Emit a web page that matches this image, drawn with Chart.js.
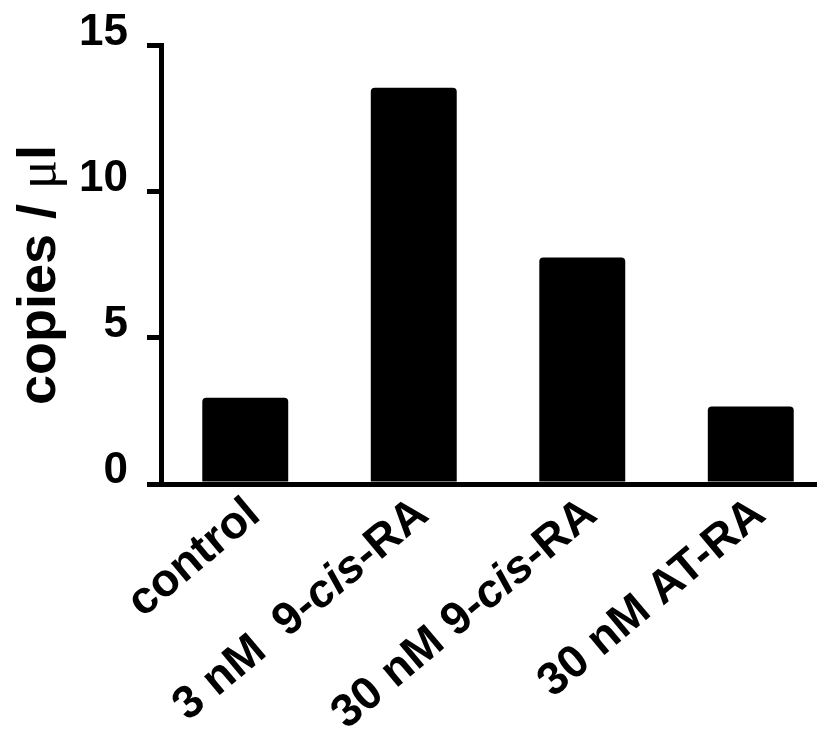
<!DOCTYPE html>
<html>
<head>
<meta charset="utf-8">
<script src="https://cdn.jsdelivr.net/npm/chart.js@4.4.1/dist/chart.umd.min.js"></script>
<style>
  html, body { margin: 0; padding: 0; background: #fff; }
  canvas { display: block; }
</style>
</head>
<body>
<canvas id="chart" width="817" height="742"></canvas>
<script>
// data
const categories = ['control', '3 nM  9-cis-RA', '30 nM 9-cis-RA', '30 nM AT-RA'];
const copies = [2.95, 13.55, 7.75, 2.65];
const yTicks = [0, 5, 10, 15];
const yTitle = ['copies / ', '\u03bc', 'l'];
const italicWord = 'cis';

const sans = '"Liberation Sans", Arial, sans-serif';

// x labels: rotated, with the "cis" part in italics
const xLabelPlugin = {
    id: 'xLabels',
    afterDraw(chart) {
        const ctx = chart.ctx;
        const xScale = chart.scales.x;
        const bottom = chart.chartArea.bottom;
        const angle = -40 * Math.PI / 180;
        categories.forEach((label, i) => {
            const parts = label.split(new RegExp('(' + italicWord + ')'));
            const fonts = parts.map(p => p === italicWord ? 'italic bold 46px ' + sans : 'bold 46px ' + sans);
            let total = 0;
            const widths = parts.map((p, k) => {
                ctx.font = fonts[k];
                const w = ctx.measureText(p).width;
                total += w;
                return w;
            });
            ctx.save();
            ctx.translate(xScale.getPixelForValue(i) + 17, bottom + 34);
            ctx.rotate(angle);
            ctx.fillStyle = '#000';
            ctx.textAlign = 'left';
            ctx.textBaseline = 'alphabetic';
            let x = -total;
            parts.forEach((p, k) => {
                ctx.font = fonts[k];
                ctx.fillText(p, x, 0);
                x += widths[k];
            });
            ctx.restore();
        });

        // y title, mu in a thin serif like the original
        const tFonts = ['bold 54px ' + sans, '54px "Liberation Serif", serif', 'bold 54px ' + sans];
        let tw = 0;
        const tWidths = yTitle.map((p, k) => {
            ctx.font = tFonts[k];
            const w = ctx.measureText(p).width;
            tw += w;
            return w;
        });
        ctx.save();
        ctx.translate(55, 275);
        ctx.rotate(-Math.PI / 2);
        ctx.fillStyle = '#000';
        ctx.textAlign = 'left';
        ctx.textBaseline = 'alphabetic';
        let tx = -tw / 2;
        yTitle.forEach((p, k) => {
            ctx.font = tFonts[k];
            ctx.fillText(p, tx, 0);
            tx += tWidths[k];
        });
        ctx.restore();
    }
};

new Chart(document.getElementById('chart'), {
    type: 'bar',
    data: {
        datasets: [{
            data: categories.map((c, i) => ({ x: i, y: copies[i] })),
            backgroundColor: '#000',
            borderWidth: 0,
            borderRadius: 4,
            barPercentage: 0.51,
            categoryPercentage: 1
        }]
    },
    options: {
        responsive: false,
        animation: false,
        layout: { padding: { top: 45, left: 0, right: 0, bottom: 0 } },
        plugins: {
            legend: { display: false },
            tooltip: { enabled: false }
        },
        scales: {
            x: {
                type: 'linear',
                offset: false,
                min: -0.5,
                max: 3.393,
                afterBuildTicks: (scale) => { scale.ticks = categories.map((c, i) => ({ value: i })); },
                grid: { display: false },
                border: { display: true, color: '#000', width: 5 },
                ticks: { display: false },
                afterFit: (scale) => { scale.height = 258; }
            },
            y: {
                min: 0,
                max: 15,
                afterBuildTicks: (scale) => { scale.ticks = yTicks.map(v => ({ value: v })); },
                grid: {
                    drawOnChartArea: false,
                    drawTicks: true,
                    tickLength: 14,
                    lineWidth: 5,
                    color: '#000'
                },
                border: { display: true, color: '#000', width: 5 },
                ticks: {
                    color: '#000',
                    padding: 19,
                    labelOffset: -13,
                    font: { family: sans, size: 44, weight: 'bold' }
                },
                afterFit: (scale) => { scale.width = 161; }
            }
        }
    },
    plugins: [xLabelPlugin]
});
</script>
</body>
</html>
